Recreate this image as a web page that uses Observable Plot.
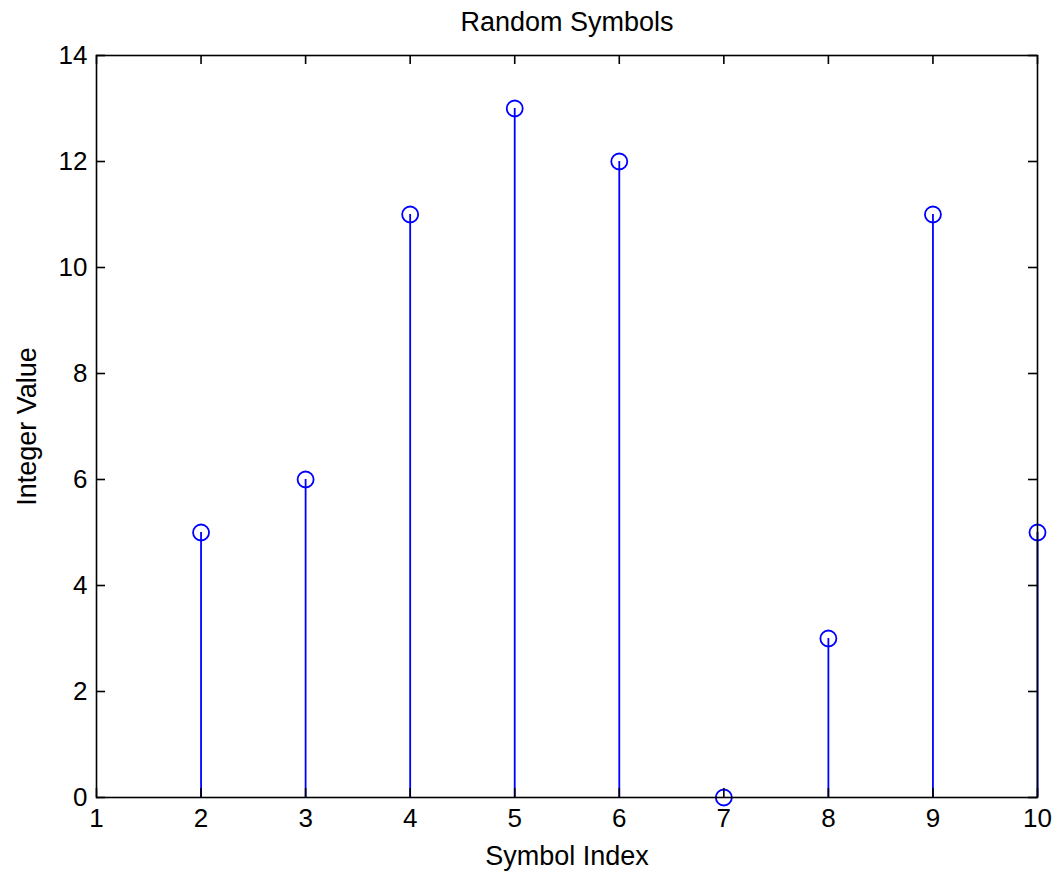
<!DOCTYPE html>
<html>
<head>
<meta charset="utf-8">
<script src="https://cdn.jsdelivr.net/npm/d3@7"></script>
<script src="https://cdn.jsdelivr.net/npm/@observablehq/plot@0.6"></script>
<style>
  html, body { margin: 0; padding: 0; background: #fff; }
  svg { display: block; }
</style>
</head>
<body>
<div id="chart"></div>
<script>
const symbolIndex = [2, 3, 4, 5, 6, 7, 8, 9, 10];
const integerValue = [5, 6, 11, 13, 12, 0, 3, 11, 5];
const xTicks = [1, 2, 3, 4, 5, 6, 7, 8, 9, 10];
const yTicks = [0, 2, 4, 6, 8, 10, 12, 14];
const titleText = "Random Symbols";
const xLabel = "Symbol Index";
const yLabel = "Integer Value";

const data = symbolIndex.map((x, i) => ({x, y: integerValue[i]}));

const W = 1055, H = 875;
const mL = 96, mR = 18, mT = 55, mB = 78;
const fw = W - mL - mR, fh = H - mT - mB;
const tk = 9;
const font = "Liberation Sans, Arial, Helvetica, sans-serif";

const chart = Plot.plot({
  width: W,
  height: H,
  marginLeft: mL,
  marginRight: mR,
  marginTop: mT,
  marginBottom: mB,
  style: {fontFamily: font, fontSize: "26px", color: "#000", background: "#fff"},
  x: {domain: [1, 10]},
  y: {domain: [0, 14]},
  marks: [
    Plot.ruleX(data, {x: "x", y1: 0, y2: "y", stroke: "#0000ff", strokeWidth: 1.8}),
    Plot.dot(data, {x: "x", y: "y", r: 8, stroke: "#0000ff", strokeWidth: 1.8, fill: "none"}),
    // inward ticks on all four sides
    Plot.tickX(xTicks, {x: d => d, insetTop: fh - tk, stroke: "#000", strokeWidth: 1.6}),
    Plot.tickX(xTicks, {x: d => d, insetBottom: fh - tk, stroke: "#000", strokeWidth: 1.6}),
    Plot.tickY(yTicks, {y: d => d, insetRight: fw - tk, stroke: "#000", strokeWidth: 1.6}),
    Plot.tickY(yTicks, {y: d => d, insetLeft: fw - tk, stroke: "#000", strokeWidth: 1.6}),
    Plot.frame({stroke: "#000", strokeWidth: 1.6}),
    Plot.axisX(xTicks, {anchor: "bottom", tickSize: 0, tickPadding: 11, fontSize: 26, fill: "#000",
      tickFormat: d => String(d),
      label: null}),
    Plot.axisY(yTicks, {anchor: "left", tickSize: 0, tickPadding: 9, fontSize: 26, fill: "#000",
      tickFormat: d => String(d),
      label: null}),
    Plot.text([xLabel], {frameAnchor: "bottom", dy: 67, fontSize: 27, fill: "#000"}),
    Plot.text([yLabel], {frameAnchor: "left", dx: -69, rotate: -90, textAnchor: "middle", fontSize: 27, fill: "#000"}),
    Plot.text([titleText], {frameAnchor: "top", dy: -44, fontSize: 27, fill: "#000"})
  ]
});
document.getElementById("chart").appendChild(chart);
</script>
</body>
</html>
